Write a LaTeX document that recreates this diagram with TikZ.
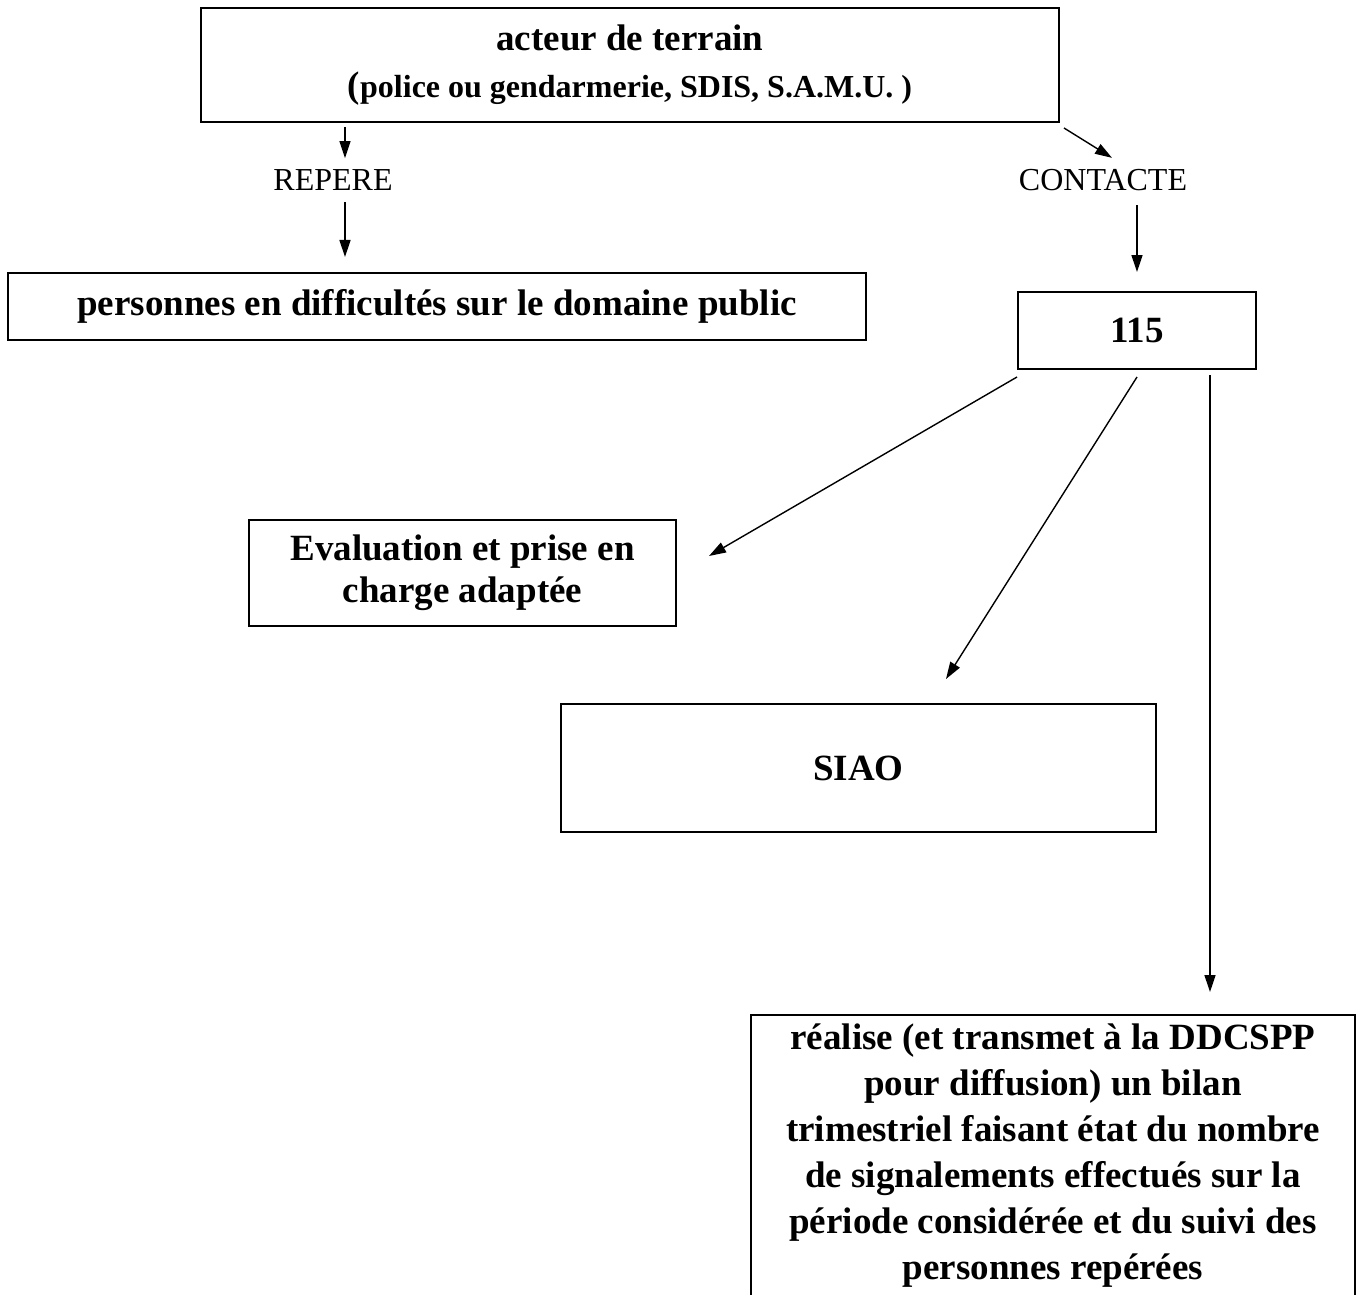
\documentclass[tikz,border=0pt]{standalone}
\usepackage{fontspec}
\setmainfont{Liberation Serif}
\usetikzlibrary{arrows.meta}
\tikzset{
  box/.style={draw, line width=1pt, inner sep=0pt, align=center,
    font=\bfseries\fontsize{18.5}{23.5}\selectfont},
  lbl/.style={inner sep=0pt, font=\fontsize{16}{19}\selectfont},
  arr/.style={line width=0.7pt, -{Triangle[length=8.5pt,width=5.5pt]}},
}
\begin{document}
\begin{tikzpicture}[x=0.5pt,y=-0.5pt]
  \useasboundingbox (0,0) rectangle (1356,1295);
  \clip (0,0) rectangle (1356,1295);
  \node[box, minimum width=429pt, minimum height=57pt] (acteur) at (630,65)
    {acteur de terrain\\{\fontsize{16}{23}\selectfont{\fontsize{18.5}{23}\selectfont(}police ou gendarmerie, SDIS, S.A.M.U. )}};
  \node[box, minimum width=429pt, minimum height=33.5pt] (perso) at (437,306.5)
    {personnes en difficultés sur le domaine public};
  \node[box, minimum width=119pt, minimum height=38.5pt] (n115) at (1137,330.5) {115};
  \node[box, minimum width=213.5pt, minimum height=53pt,
    font=\bfseries\fontsize{18.5}{21}\selectfont] (eval) at (462.5,573)
    {Evaluation et prise en\\charge adaptée};
  \node[box, minimum width=297.5pt, minimum height=64pt] (siao) at (858.5,768) {SIAO};
  \node[box, draw=none, minimum width=301pt, minimum height=140pt,
    font=\bfseries\fontsize{18.5}{23}\selectfont] (bilan) at (1053,1156)
    {réalise (et transmet à la DDCSPP\\pour diffusion) un bilan\\trimestriel faisant état du nombre\\de signalements effectués sur la\\période considérée et du suivi des\\personnes repérées};
  \draw[line width=1pt] (bilan.north west) rectangle ([yshift=-10pt]bilan.south east);
  \node[lbl] (repere) at (333,180) {REPERE};
  \node[lbl] (contacte) at (1103,180) {CONTACTE};
  \coordinate (rx) at (345,0);
  \coordinate (bx) at (1210,0);
  \draw[arr] ([yshift=-2pt]acteur.south -| rx) -- ([yshift=5.5pt]repere.north -| rx);
  \draw[arr] ([yshift=-5.5pt]repere.south -| rx) -- ([yshift=7.5pt]perso.north -| rx);
  \draw[arr] ([shift={(2pt,-2.5pt)}]acteur.south east) -- ([shift={(4.5pt,5.5pt)}]contacte.north);
  \draw[arr] ([yshift=-7pt]contacte.south -| n115) -- ([yshift=9.5pt]n115.north);
  \draw[arr] ([yshift=-3.5pt]n115.south west) -- ([shift={(16pt,8.5pt)}]eval.east);
  \draw[arr] ([yshift=-3.5pt]n115.south) -- ([shift={(43.75pt,12pt)}]siao.north);
  \draw[arr] ([yshift=-2.5pt]n115.south -| bx) -- ([yshift=11.5pt]bilan.north -| bx);
\end{tikzpicture}
\end{document}
